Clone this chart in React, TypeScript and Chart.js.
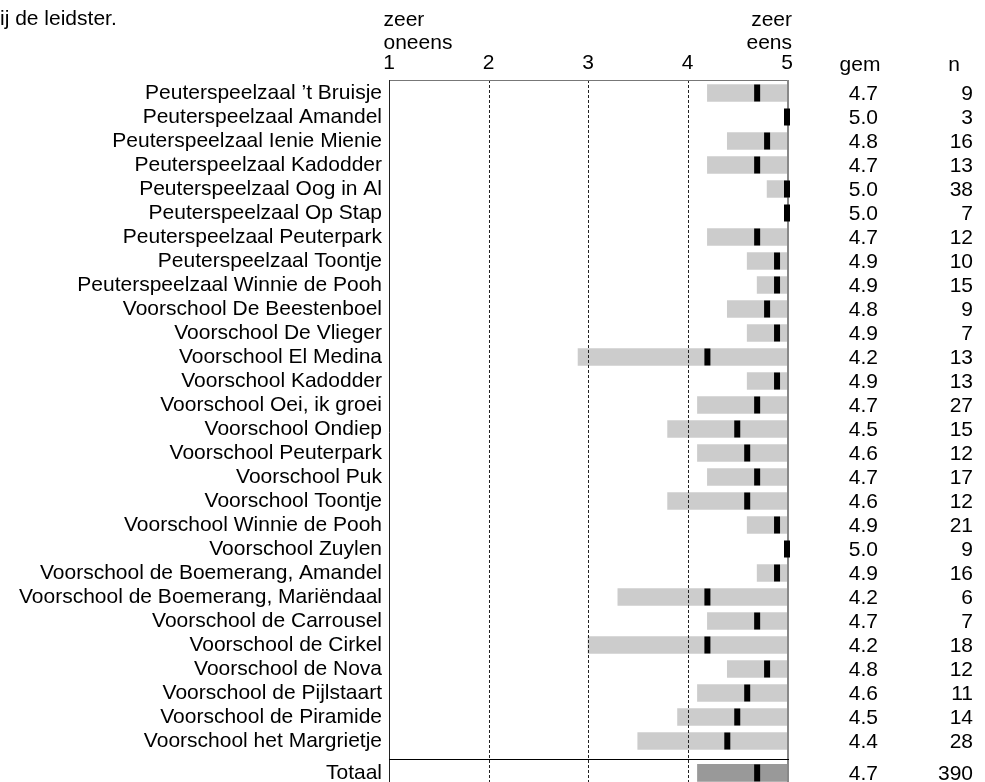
import React, { useEffect, useRef } from 'react';
import { Chart, registerables } from 'chart.js';

Chart.register(...registerables);

const FONT = '"Liberation Sans", Arial, Helvetica, sans-serif';

const titleTail = 'ij de leidster.';
const leftAnchor = ['zeer', 'oneens'];
const rightAnchor = ['zeer', 'eens'];
const meanHeader = 'gem';
const countHeader = 'n';

const categories = [
  'Peuterspeelzaal \u2019t Bruisje',
  'Peuterspeelzaal Amandel',
  'Peuterspeelzaal Ienie Mienie',
  'Peuterspeelzaal Kadodder',
  'Peuterspeelzaal Oog in Al',
  'Peuterspeelzaal Op Stap',
  'Peuterspeelzaal Peuterpark',
  'Peuterspeelzaal Toontje',
  'Peuterspeelzaal Winnie de Pooh',
  'Voorschool De Beestenboel',
  'Voorschool De Vlieger',
  'Voorschool El Medina',
  'Voorschool Kadodder',
  'Voorschool Oei, ik groei',
  'Voorschool Ondiep',
  'Voorschool Peuterpark',
  'Voorschool Puk',
  'Voorschool Toontje',
  'Voorschool Winnie de Pooh',
  'Voorschool Zuylen',
  'Voorschool de Boemerang, Amandel',
  'Voorschool de Boemerang, Mari\u00EBndaal',
  'Voorschool de Carrousel',
  'Voorschool de Cirkel',
  'Voorschool de Nova',
  'Voorschool de Pijlstaart',
  'Voorschool de Piramide',
  'Voorschool het Margrietje',
  'Totaal',
];

const means = [4.7, 5.0, 4.8, 4.7, 5.0, 5.0, 4.7, 4.9, 4.9, 4.8, 4.9, 4.2, 4.9, 4.7, 4.5, 4.6, 4.7, 4.6, 4.9, 5.0, 4.9, 4.2, 4.7, 4.2, 4.8, 4.6, 4.5, 4.4, 4.7];
const counts = [9, 3, 16, 13, 38, 7, 12, 10, 15, 9, 7, 13, 13, 27, 15, 12, 17, 12, 21, 9, 16, 6, 7, 18, 12, 11, 14, 28, 390];
const rangeLow = [4.2, 5.0, 4.4, 4.2, 4.8, 5.0, 4.2, 4.6, 4.7, 4.4, 4.6, 2.9, 4.6, 4.1, 3.8, 4.1, 4.2, 3.8, 4.6, 5.0, 4.7, 3.3, 4.2, 3.0, 4.4, 4.1, 3.9, 3.5, 4.1];
const rangeHigh = [5, 5, 5, 5, 5, 5, 5, 5, 5, 5, 5, 5, 5, 5, 5, 5, 5, 5, 5, 5, 5, 5, 5, 5, 5, 5, 5, 5, 5];
const xTicks = [1, 2, 3, 4, 5];

const ROW_PX = 24;

export default function App() {
  const ref = useRef<HTMLCanvasElement>(null);

  useEffect(() => {
    const canvas = ref.current;
    if (!canvas) return;
    const last = categories.length - 1;
    const rowPos = categories.map((_, i) => (i === last ? i + 0.33 : i));
    const barColors = categories.map((_, i) => (i === last ? '#999999' : '#cccccc'));
    const yMin = -13 / ROW_PX;

    const overlay = {
      id: 'overlay',
      afterDatasetDraw(chart: any, args: any) {
        if (args.index !== 0) return;
        const { ctx, chartArea: a, scales } = chart;
        const x = scales.x;
        const y = scales.y;
        ctx.save();
        ctx.lineWidth = 1;
        ctx.strokeStyle = '#222';
        ctx.setLineDash([3, 2]);
        xTicks.slice(1, -1).forEach((v) => {
          const px = Math.round(x.getPixelForValue(v)) + 0.5;
          ctx.beginPath();
          ctx.moveTo(px, a.top);
          ctx.lineTo(px, a.bottom);
          ctx.stroke();
        });
        ctx.setLineDash([]);
        ctx.strokeStyle = '#777';
        ctx.beginPath();
        ctx.moveTo(a.left, a.top + 0.5);
        ctx.lineTo(a.right + 2, a.top + 0.5);
        ctx.stroke();
        ctx.strokeStyle = '#222';
        ctx.beginPath();
        ctx.moveTo(a.left + 0.5, a.top);
        ctx.lineTo(a.left + 0.5, a.bottom);
        ctx.stroke();
        ctx.strokeStyle = '#888';
        ctx.lineWidth = 2;
        ctx.beginPath();
        ctx.moveTo(a.right + 1, a.top);
        ctx.lineTo(a.right + 1, a.bottom);
        ctx.stroke();
        ctx.lineWidth = 1;
        ctx.strokeStyle = '#000';
        const sy = Math.round(y.getPixelForValue(rowPos[last]) - 13.5) + 0.5;
        ctx.beginPath();
        ctx.moveTo(a.left, sy);
        ctx.lineTo(a.right + 2, sy);
        ctx.stroke();
        ctx.restore();
      },
      afterDraw(chart: any) {
        const { ctx, chartArea: a, scales } = chart;
        const y = scales.y;
        ctx.save();
        ctx.fillStyle = '#000';
        ctx.font = `21px ${FONT}`;
        ctx.textBaseline = 'alphabetic';
        ctx.textAlign = 'left';
        ctx.fillText(titleTail, 0, 25);
        leftAnchor.forEach((t, i) => ctx.fillText(t, a.left - 5.5, 26 + i * 22.5));
        ctx.textAlign = 'right';
        rightAnchor.forEach((t, i) => ctx.fillText(t, a.right + 5, 26 + i * 22.5));
        ctx.textAlign = 'center';
        ctx.fillText(meanHeader, 860, 71);
        ctx.fillText(countHeader, 954, 71);
        ctx.textAlign = 'right';
        ctx.textBaseline = 'middle';
        categories.forEach((_, i) => {
          const py = y.getPixelForValue(rowPos[i]) + 1;
          ctx.fillText(means[i].toFixed(1), 878, py);
          ctx.fillText(String(counts[i]), 973, py);
        });
        ctx.restore();
      },
    };

    const chart = new Chart(canvas, {
      type: 'bar',
      data: {
        datasets: [
          {
            type: 'bar',
            data: categories.map((_, i) => ({ x: [rangeLow[i], rangeHigh[i]], y: rowPos[i] })),
            backgroundColor: barColors,
            borderWidth: 0,
            barThickness: 17,
            grouped: false,
            order: 2,
          } as any,
          {
            type: 'scatter',
            data: categories.map((_, i) => ({ x: means[i], y: rowPos[i] })),
            pointStyle: 'line',
            pointRadius: 8.5,
            pointRotation: 90,
            pointBorderWidth: 6,
            pointBorderColor: '#000',
            pointBackgroundColor: '#000',
            borderColor: '#000',
            showLine: false,
            clip: false,
            order: 1,
          } as any,
        ],
      },
      options: {
        indexAxis: 'y',
        responsive: false,
        animation: false,
        events: [],
        layout: { padding: { left: 0, top: 0, right: 198, bottom: 0 } },
        plugins: { legend: { display: false }, tooltip: { enabled: false }, title: { display: false } },
        scales: {
          x: {
            type: 'linear',
            position: 'top',
            min: 1,
            max: 5,
            offset: false,
            afterBuildTicks: (s: any) => {
              s.ticks = xTicks.map((v) => ({ value: v }));
            },
            afterFit: (s: any) => {
              s.height = 80;
              s.paddingLeft = 0;
              s.paddingRight = 0;
            },
            ticks: { color: '#000', font: { family: FONT, size: 21 }, padding: 4, autoSkip: false, maxRotation: 0 },
            grid: { display: false, drawTicks: false, offset: false },
            border: { display: false },
          },
          y: {
            type: 'linear',
            reverse: true,
            offset: false,
            min: yMin,
            max: yMin + 30,
            afterBuildTicks: (s: any) => {
              s.ticks = rowPos.map((v) => ({ value: v }));
            },
            afterFit: (s: any) => {
              s.width = 389;
              s.paddingTop = 0;
              s.paddingBottom = 0;
            },
            ticks: {
              color: '#000',
              font: { family: FONT, size: 21 },
              padding: 7,
              autoSkip: false,
              callback: (_v: any, i: number) => categories[i],
            },
            grid: { display: false, drawTicks: false, offset: false },
            border: { display: false },
          },
        },
      } as any,
      plugins: [overlay],
    });

    // keep a fixed row pitch: fit the value range to the real plot height
    const area = chart.chartArea;
    const yOpts: any = (chart.options as any).scales.y;
    yOpts.min = yMin;
    yOpts.max = yMin + (area.bottom - area.top) / ROW_PX;
    chart.update();

    return () => chart.destroy();
  }, []);

  return (
    <div style={{ position: 'fixed', left: 0, top: 0, width: 985, height: 782, overflow: 'hidden', background: '#fff' }}>
      <canvas ref={ref} width={985} height={800} style={{ display: 'block', width: 985, height: 800 }} />
    </div>
  );
}
